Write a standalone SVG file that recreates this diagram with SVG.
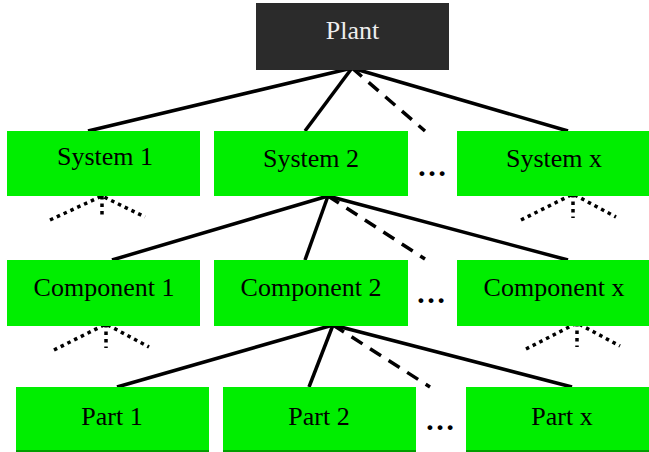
<svg xmlns="http://www.w3.org/2000/svg" width="649" height="452" viewBox="0 0 649 452">
<style>
.box{fill:#00ee00}
.lbl{font-family:'Liberation Serif','Times New Roman','DejaVu Serif',serif;font-size:26px;fill:#000;text-anchor:middle}
.solid{stroke:#000;stroke-width:3.5;fill:none}
.dash{stroke:#000;stroke-width:3.5;fill:none;stroke-dasharray:13 9}
.dot{stroke:#000;stroke-width:3.5;fill:none;stroke-dasharray:3.5 4}
.ell{font-family:'Liberation Serif','Times New Roman','DejaVu Serif',serif;font-size:30px;font-weight:bold;fill:#000}
</style>
<rect width="649" height="452" fill="#fff"/>
<g id="connectors">
<line class="solid" x1="352" y1="68" x2="88" y2="131"/>
<line class="solid" x1="352" y1="68" x2="305" y2="131"/>
<line class="dash" x1="352" y1="68" x2="425" y2="131"/>
<line class="solid" x1="352" y1="68" x2="568" y2="131"/>
<line class="solid" x1="328" y1="196" x2="112" y2="260"/>
<line class="solid" x1="328" y1="196" x2="305" y2="260"/>
<line class="dash" x1="328" y1="196" x2="425" y2="259"/>
<line class="solid" x1="328" y1="196" x2="568" y2="260"/>
<line class="solid" x1="333" y1="325" x2="117" y2="387"/>
<line class="solid" x1="333" y1="325" x2="309" y2="387"/>
<line class="dash" x1="333" y1="325" x2="430" y2="387"/>
<line class="solid" x1="333" y1="325" x2="572" y2="387"/>
<path class="dot" d="M50 220 L102 196 L145 217 M102 196 L102 218"/>
<path class="dot" d="M521 220 L573 194 L616 217 M573 194 L573 218"/>
<path class="dot" d="M54 350 L106 324 L149 347 M106 324 L106 348"/>
<path class="dot" d="M526 349 L577 323 L620 346 M577 323 L577 347"/>
</g>
<g id="plant"><rect x="256" y="3" width="193" height="67" fill="#2b2b2b"/><text class="lbl" x="352.5" y="39" style="fill:#eeeeee">Plant</text></g>
<g id="system1"><rect class="box" x="7" y="131" width="193" height="65"/><text class="lbl" x="105" y="165">System 1</text></g>
<g id="system2"><rect class="box" x="214" y="131" width="194" height="65"/><text class="lbl" x="311" y="167">System 2</text></g>
<g id="systemx"><rect class="box" x="457" y="131" width="193" height="65"/><text class="lbl" x="554" y="167">System x</text></g>
<g id="component1"><rect class="box" x="7" y="260" width="193" height="66"/><text class="lbl" x="104" y="296">Component 1</text></g>
<g id="component2"><rect class="box" x="214" y="260" width="194" height="66"/><text class="lbl" x="311" y="296">Component 2</text></g>
<g id="componentx"><rect class="box" x="457" y="260" width="193" height="66"/><text class="lbl" x="554" y="296">Component x</text></g>
<g id="part1"><rect class="box" x="16" y="387" width="193" height="64"/><rect x="16" y="450" width="193" height="2" fill="#00a000"/><text class="lbl" x="112" y="425">Part 1</text></g>
<g id="part2"><rect class="box" x="223" y="387" width="193" height="64"/><rect x="223" y="450" width="193" height="2" fill="#00a000"/><text class="lbl" x="319" y="425">Part 2</text></g>
<g id="partx"><rect class="box" x="466" y="387" width="184" height="64"/><rect x="466" y="450" width="184" height="2" fill="#00a000"/><text class="lbl" x="562" y="425">Part x</text></g>
<g id="ellipses">
<text class="ell" x="417" y="176">…</text>
<text class="ell" x="416" y="303">…</text>
<text class="ell" x="425" y="430">…</text>
</g>
</svg>
